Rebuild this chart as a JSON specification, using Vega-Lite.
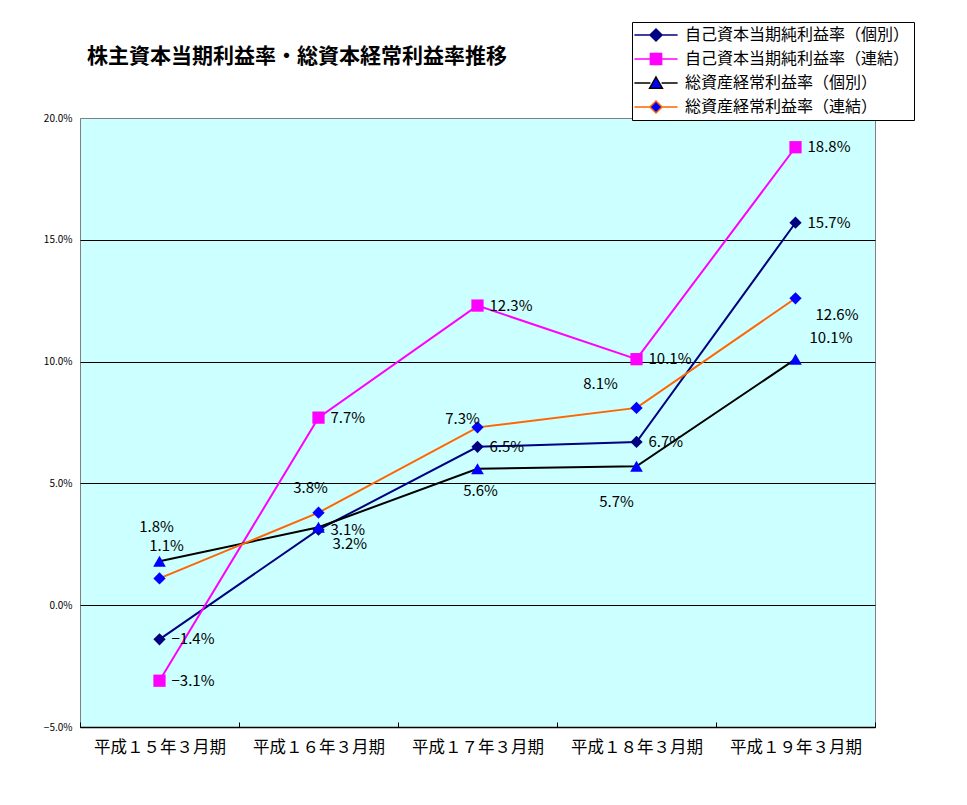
{
  "$schema": "https://vega.github.io/schema/vega-lite/v6.json",
  "autosize": {"type": "none"},
  "padding": {"left": 80, "top": 118, "right": 92, "bottom": 78},
  "width": 795,
  "height": 609,
  "background": "white",
  "title": {
    "text": "株主資本当期利益率・総資本経常利益率推移",
    "font": "Noto Sans CJK JP",
    "fontSize": 21,
    "fontWeight": "bold",
    "color": "black",
    "anchor": "start",
    "frame": "group",
    "dx": 7,
    "offset": -45
  },
  "config": {
    "view": {"stroke": "#808080", "fill": "#CCFFFF"},
    "font": "Noto Sans CJK JP"
  },
  "data": {
    "values": [
      {"period": "平成１５年３月期", "series": "自己資本当期純利益率（個別）", "value": -0.014},
      {"period": "平成１６年３月期", "series": "自己資本当期純利益率（個別）", "value": 0.031},
      {"period": "平成１７年３月期", "series": "自己資本当期純利益率（個別）", "value": 0.065},
      {"period": "平成１８年３月期", "series": "自己資本当期純利益率（個別）", "value": 0.067},
      {"period": "平成１９年３月期", "series": "自己資本当期純利益率（個別）", "value": 0.157},
      {"period": "平成１５年３月期", "series": "自己資本当期純利益率（連結）", "value": -0.031},
      {"period": "平成１６年３月期", "series": "自己資本当期純利益率（連結）", "value": 0.077},
      {"period": "平成１７年３月期", "series": "自己資本当期純利益率（連結）", "value": 0.123},
      {"period": "平成１８年３月期", "series": "自己資本当期純利益率（連結）", "value": 0.101},
      {"period": "平成１９年３月期", "series": "自己資本当期純利益率（連結）", "value": 0.188},
      {"period": "平成１５年３月期", "series": "総資産経常利益率（個別）", "value": 0.018},
      {"period": "平成１６年３月期", "series": "総資産経常利益率（個別）", "value": 0.032},
      {"period": "平成１７年３月期", "series": "総資産経常利益率（個別）", "value": 0.056},
      {"period": "平成１８年３月期", "series": "総資産経常利益率（個別）", "value": 0.057},
      {"period": "平成１９年３月期", "series": "総資産経常利益率（個別）", "value": 0.101},
      {"period": "平成１５年３月期", "series": "総資産経常利益率（連結）", "value": 0.011},
      {"period": "平成１６年３月期", "series": "総資産経常利益率（連結）", "value": 0.038},
      {"period": "平成１７年３月期", "series": "総資産経常利益率（連結）", "value": 0.073},
      {"period": "平成１８年３月期", "series": "総資産経常利益率（連結）", "value": 0.081},
      {"period": "平成１９年３月期", "series": "総資産経常利益率（連結）", "value": 0.126}
    ]
  },
  "encoding": {
    "x": {
      "field": "period",
      "type": "ordinal",
      "sort": ["平成１５年３月期", "平成１６年３月期", "平成１７年３月期", "平成１８年３月期", "平成１９年３月期"],
      "scale": {"type": "band", "paddingInner": 0, "paddingOuter": 0},
      "title": null,
      "axis": {
        "labelAngle": 0,
        "labelFont": "Noto Sans CJK JP",
        "labelFontSize": 16.5,
        "labelColor": "black",
        "labelPadding": 17,
        "domainColor": "black",
        "domainWidth": 1.5,
        "tickBand": "extent",
        "tickColor": "black",
        "tickSize": -5,
        "grid": false
      }
    },
    "y": {
      "field": "value",
      "type": "quantitative",
      "scale": {"domain": [-0.05, 0.2], "nice": false, "zero": false},
      "title": null,
      "axis": {
        "format": ".1%",
        "values": [-0.05, 0, 0.05, 0.1, 0.15, 0.2],
        "labelFont": "Noto Sans CJK JP",
        "labelFontSize": 10,
        "labelColor": "black",
        "labelPadding": 8,
        "ticks": false,
        "domain": false,
        "grid": true,
        "gridColor": {"condition": {"test": "datum.value >= 0.2", "value": "#808080"}, "value": "black"},
        "gridOpacity": 1,
        "gridWidth": 1
      }
    }
  },
  "layer": [
    {
      "mark": {"type": "line", "strokeWidth": 2},
      "encoding": {
        "stroke": {
          "field": "series",
          "type": "nominal",
          "scale": {
            "domain": ["自己資本当期純利益率（個別）", "自己資本当期純利益率（連結）", "総資産経常利益率（個別）", "総資産経常利益率（連結）"],
            "range": ["#000080", "#FF00FF", "#000000", "#FF6600"]
          },
          "legend": {
            "title": null,
            "orient": "none",
            "legendX": 552,
            "legendY": -96,
            "padding": 4,
            "strokeColor": "black",
            "fillColor": "white",
            "labelFont": "Noto Sans CJK JP",
            "labelFontSize": 16,
            "labelColor": "black",
            "labelLimit": 400,
            "labelOffset": 20,
            "rowPadding": 6,
            "symbolSize": 256,
            "symbolOffset": 11,
            "symbolStrokeWidth": 1.5,
            "encode": {
              "symbols": {
                "update": {
                  "shape": {"signal": "indexof(datum.value, '自己資本当期純利益率（連結）') >= 0 ? 'M-2.7,0H-0.7M0.7,0H2.7M-0.7,-0.7H0.7V0.7H-0.7Z' : indexof(datum.value, '総資産経常利益率（個別）') >= 0 ? 'M-2.7,0H-0.7M0.7,0H2.7M0,-0.75L0.8,0.65L-0.8,0.65Z' : 'M-2.7,0H-0.75M0.75,0H2.7M0,-0.75L0.75,0L0,0.75L-0.75,0Z'"},
                  "fill": {"signal": "indexof(datum.value, '自己資本当期純利益率（個別）') >= 0 ? '#000080' : indexof(datum.value, '自己資本当期純利益率（連結）') >= 0 ? '#FF00FF' : '#0000FF'"},
                  "strokeWidth": {"value": 1.5},
                  "opacity": {"value": 1}
                }
              }
            }
          }
        }
      }
    },
    {
      "transform": [{"filter": "indexof(datum.series, '個別') >= 0 && indexof(datum.series, '自己資本') >= 0 || indexof(datum.series, '総資産経常利益率（連結）') >= 0"}],
      "mark": {"type": "point", "shape": "diamond", "filled": true, "opacity": 1, "size": 150},
      "encoding": {
        "fill": {
          "field": "series",
          "type": "nominal",
          "scale": {
            "domain": ["自己資本当期純利益率（個別）", "自己資本当期純利益率（連結）", "総資産経常利益率（個別）", "総資産経常利益率（連結）"],
            "range": ["#000080", "#FF00FF", "#0000FF", "#0000FF"]
          },
          "legend": null
        }
      }
    },
    {
      "transform": [{"filter": "datum.series === '自己資本当期純利益率（連結）'"}],
      "mark": {"type": "point", "shape": "square", "filled": true, "opacity": 1, "size": 150},
      "encoding": {
        "fill": {"field": "series", "type": "nominal", "legend": null}
      }
    },
    {
      "transform": [{"filter": "datum.series === '総資産経常利益率（個別）'"}],
      "mark": {"type": "point", "shape": "triangle-up", "filled": true, "opacity": 1, "size": 160},
      "encoding": {
        "fill": {"field": "series", "type": "nominal", "legend": null}
      }
    },
    {
      "transform": [{"filter": "indexof(datum.series, '自己資本') >= 0"}],
      "mark": {"type": "text", "align": "left", "baseline": "middle", "dx": 12, "fontSize": 15, "color": "black"},
      "encoding": {"text": {"field": "value", "type": "quantitative", "format": ".1%"}}
    },
    {
      "transform": [{"filter": "datum.series === '総資産経常利益率（個別）' && datum.period === '平成１５年３月期'"}],
      "mark": {"type": "text", "align": "center", "baseline": "middle", "dx": -3, "dy": -34, "fontSize": 15, "color": "black"},
      "encoding": {"text": {"field": "value", "type": "quantitative", "format": ".1%"}}
    },
    {
      "transform": [{"filter": "datum.series === '総資産経常利益率（個別）' && datum.period === '平成１６年３月期'"}],
      "mark": {"type": "text", "align": "left", "baseline": "middle", "dx": 14, "dy": 17, "fontSize": 15, "color": "black"},
      "encoding": {"text": {"field": "value", "type": "quantitative", "format": ".1%"}}
    },
    {
      "transform": [{"filter": "datum.series === '総資産経常利益率（個別）' && datum.period === '平成１７年３月期'"}],
      "mark": {"type": "text", "align": "center", "baseline": "middle", "dx": 3, "dy": 22, "fontSize": 15, "color": "black"},
      "encoding": {"text": {"field": "value", "type": "quantitative", "format": ".1%"}}
    },
    {
      "transform": [{"filter": "datum.series === '総資産経常利益率（個別）' && datum.period === '平成１８年３月期'"}],
      "mark": {"type": "text", "align": "center", "baseline": "middle", "dx": -20, "dy": 36, "fontSize": 15, "color": "black"},
      "encoding": {"text": {"field": "value", "type": "quantitative", "format": ".1%"}}
    },
    {
      "transform": [{"filter": "datum.series === '総資産経常利益率（個別）' && datum.period === '平成１９年３月期'"}],
      "mark": {"type": "text", "align": "left", "baseline": "middle", "dx": 14, "dy": -21, "fontSize": 15, "color": "black"},
      "encoding": {"text": {"field": "value", "type": "quantitative", "format": ".1%"}}
    },
    {
      "transform": [{"filter": "datum.series === '総資産経常利益率（連結）' && datum.period === '平成１５年３月期'"}],
      "mark": {"type": "text", "align": "center", "baseline": "middle", "dx": 7, "dy": -32, "fontSize": 15, "color": "black"},
      "encoding": {"text": {"field": "value", "type": "quantitative", "format": ".1%"}}
    },
    {
      "transform": [{"filter": "datum.series === '総資産経常利益率（連結）' && datum.period === '平成１６年３月期'"}],
      "mark": {"type": "text", "align": "center", "baseline": "middle", "dx": -8, "dy": -25, "fontSize": 15, "color": "black"},
      "encoding": {"text": {"field": "value", "type": "quantitative", "format": ".1%"}}
    },
    {
      "transform": [{"filter": "datum.series === '総資産経常利益率（連結）' && datum.period === '平成１７年３月期'"}],
      "mark": {"type": "text", "align": "center", "baseline": "middle", "dx": -15, "dy": -8, "fontSize": 15, "color": "black"},
      "encoding": {"text": {"field": "value", "type": "quantitative", "format": ".1%"}}
    },
    {
      "transform": [{"filter": "datum.series === '総資産経常利益率（連結）' && datum.period === '平成１８年３月期'"}],
      "mark": {"type": "text", "align": "center", "baseline": "middle", "dx": -36, "dy": -24, "fontSize": 15, "color": "black"},
      "encoding": {"text": {"field": "value", "type": "quantitative", "format": ".1%"}}
    },
    {
      "transform": [{"filter": "datum.series === '総資産経常利益率（連結）' && datum.period === '平成１９年３月期'"}],
      "mark": {"type": "text", "align": "left", "baseline": "middle", "dx": 20, "dy": 17, "fontSize": 15, "color": "black"},
      "encoding": {"text": {"field": "value", "type": "quantitative", "format": ".1%"}}
    }
  ]
}
